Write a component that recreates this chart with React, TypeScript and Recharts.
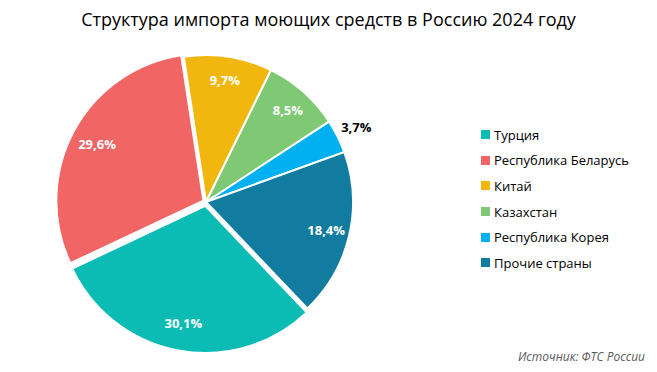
import React from 'react';
import { PieChart, Pie, Cell, Sector, Legend } from 'recharts';

const countries = ['Турция', 'Республика Беларусь', 'Китай', 'Казахстан', 'Республика Корея', 'Прочие страны'];
const shares = [30.1, 29.6, 9.7, 8.5, 3.7, 18.4];
const COLORS = ['#0BBCB4', '#F26565', '#F2B70F', '#7FC874', '#00B0F0', '#117CA0'];
const EXPLODE = [4, 3, 0, 0, 0, 0];

const data = countries.map((name, i) => ({ name, value: shares[i] }));

const FONT = '"Open Sans", "Noto Sans", sans-serif';
const RAD = Math.PI / 180;

const renderSlice = (props: any) => {
  const off = EXPLODE[props.index] || 0;
  const dx = off * Math.cos(-props.midAngle * RAD);
  const dy = off * Math.sin(-props.midAngle * RAD);
  return <Sector {...props} cx={props.cx + dx} cy={props.cy + dy} />;
};

const renderLabel = (props: any) => {
  const { cx, cy, midAngle, outerRadius, index, value } = props;
  const outside = index === 4;
  const r = outside ? outerRadius + 21 : outerRadius * 0.84;
  const x = cx + r * Math.cos(-midAngle * RAD);
  const y = cy + r * Math.sin(-midAngle * RAD);
  return (
    <text
      x={x}
      y={y}
      fill={outside ? '#000' : '#fff'}
      textAnchor="middle"
      dominantBaseline="central"
      style={{ fontFamily: FONT, fontSize: 13, fontWeight: 700 }}
    >
      {value.toFixed(1).replace('.', ',')}%
    </text>
  );
};

const renderLegend = () => (
  <div style={{ fontFamily: FONT, fontSize: 13, color: '#000' }}>
    {data.map((d, i) => (
      <div key={d.name} style={{ display: 'flex', alignItems: 'center', height: 25.6 }}>
        <span style={{ width: 9, height: 9, background: COLORS[i], marginRight: 4, display: 'inline-block' }} />
        <span>{d.name}</span>
      </div>
    ))}
  </div>
);

export default function App() {
  return (
    <div style={{ position: 'absolute', left: 0, top: 0, width: 657, height: 372, background: '#fff' }}>
      <div
        style={{
          position: 'absolute',
          top: 7,
          width: 657,
          textAlign: 'center',
          fontFamily: FONT,
          fontSize: 18,
          fontWeight: 400,
          color: '#000',
        }}
      >
        Структура импорта моющих средств в Россию 2024 году
      </div>
      <PieChart width={657} height={372}>
        <Pie
          data={data}
          dataKey="value"
          nameKey="name"
          cx={201}
          cy={197}
          outerRadius={147}
          startAngle={-46.4}
          endAngle={-406.4}
          stroke="#fff"
          strokeWidth={2}
          label={renderLabel}
          labelLine={false}
          shape={renderSlice}
          activeShape={renderSlice}
          inactiveShape={renderSlice}
          isAnimationActive={false}
        >
          {data.map((d, i) => (
            <Cell key={`cell-${i}`} fill={COLORS[i]} />
          ))}
        </Pie>
        <Legend content={renderLegend} wrapperStyle={{ left: 481, top: 122, width: 170 }} />
      </PieChart>
      <div
        style={{
          position: 'absolute',
          right: 12,
          top: 348,
          fontFamily: FONT,
          fontSize: 12,
          fontStyle: 'italic',
          color: '#595959',
        }}
      >
        Источник: ФТС России
      </div>
    </div>
  );
}
